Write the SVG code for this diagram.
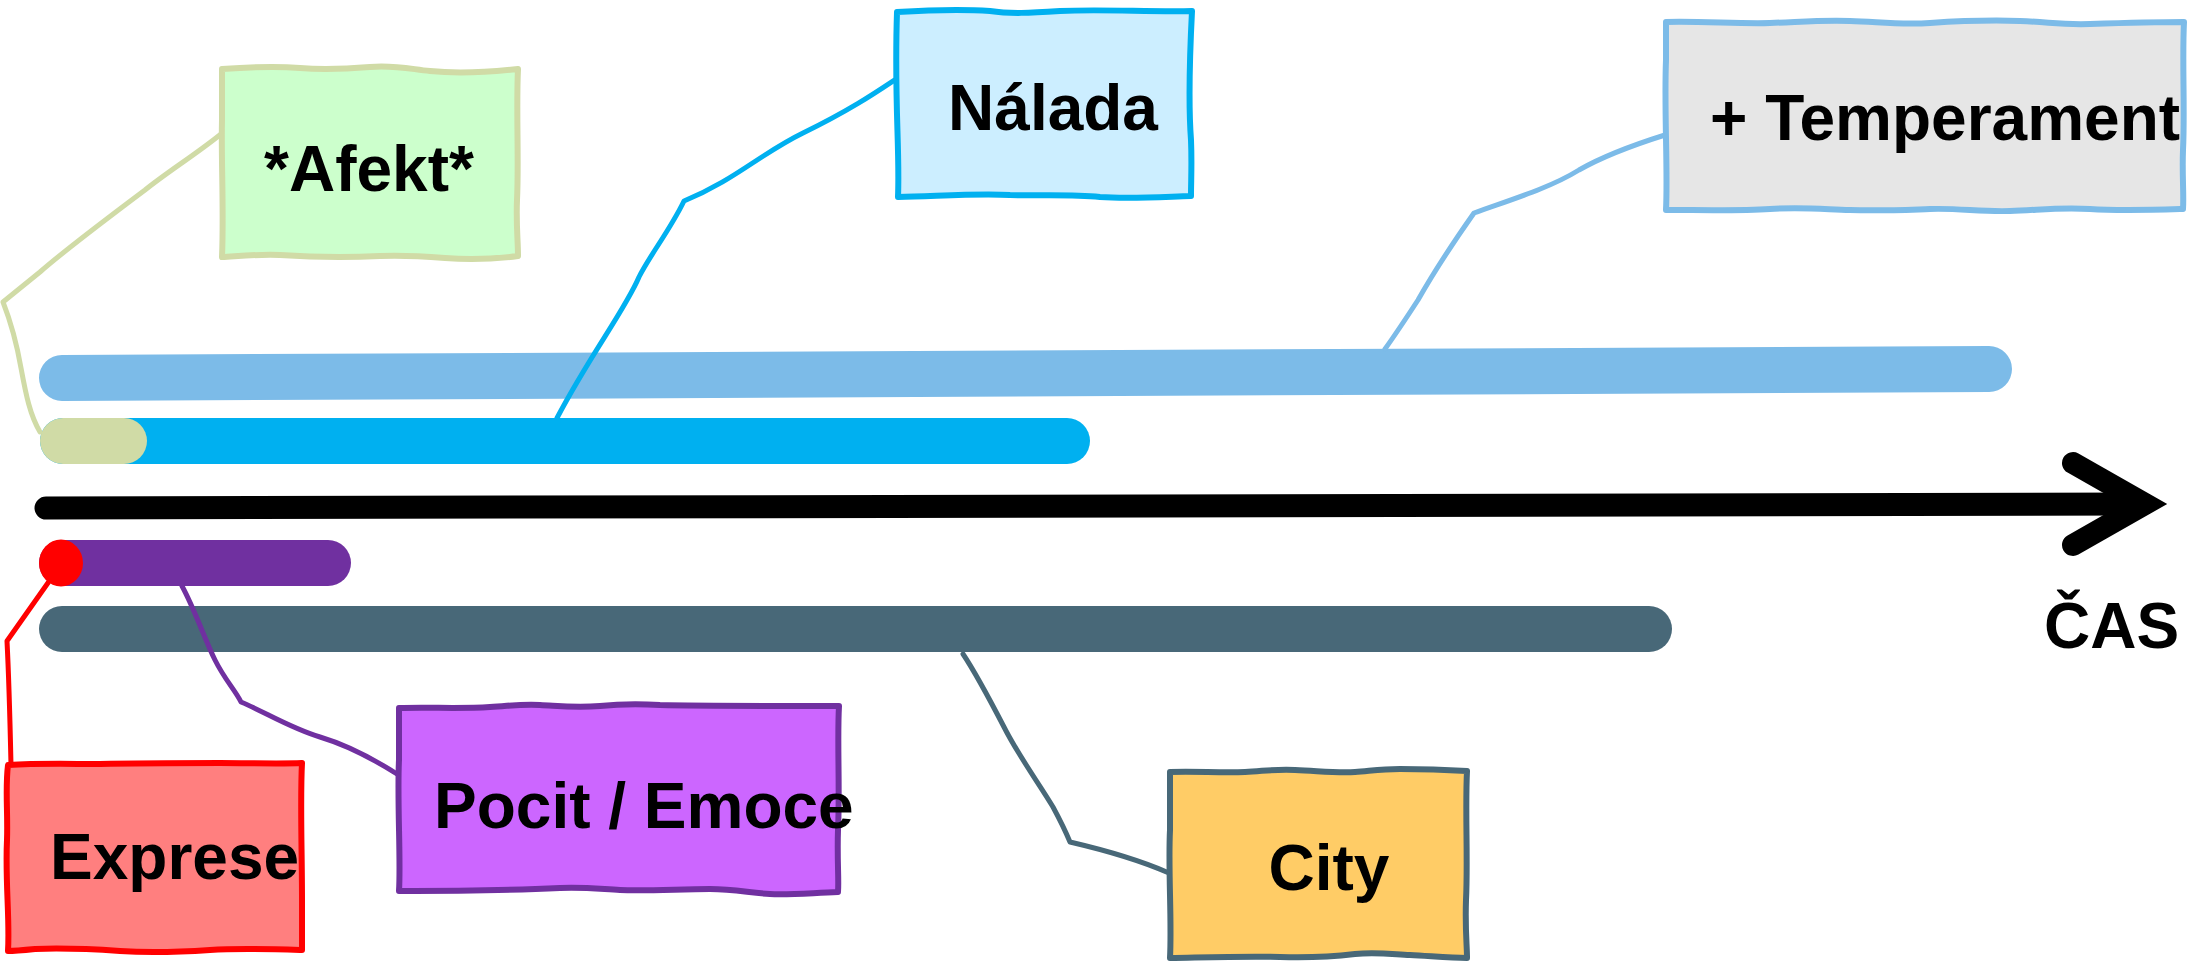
<svg xmlns="http://www.w3.org/2000/svg" width="2201" height="961" viewBox="0 0 2201 961">
  <style>
    .bar { fill: none; stroke-width: 46; stroke-linecap: round; }
    .conn { fill: none; stroke-width: 5; stroke-linejoin: round; stroke-linecap: round; }
    .box { stroke-width: 6; stroke-linejoin: round; }
    .lbl { font-family: "Liberation Sans", Arial, sans-serif; font-weight: bold; font-size: 64px; fill: #000000; }
  </style>
  <rect x="0" y="0" width="2201" height="961" fill="#FFFFFF"/>

  <g id="bars">
    <line id="bar-temperament" class="bar" x1="62" y1="378" x2="1989" y2="369" stroke="#7CBBE8"/>
    <line id="bar-nalada" class="bar" x1="63" y1="441" x2="1067" y2="441" stroke="#00B0F0"/>
    <line id="bar-afekt" class="bar" x1="63" y1="441" x2="124" y2="441" stroke="#D0DBA6"/>
    <line id="bar-pocit" class="bar" x1="62" y1="563" x2="328" y2="563" stroke="#7030A0"/>
    <ellipse id="bar-exprese" cx="61" cy="563" rx="22" ry="23.5" fill="#FF0000"/>
    <line id="bar-city" class="bar" x1="62" y1="629" x2="1649" y2="629" stroke="#486878"/>
  </g>

  <g id="time-axis">
    <line x1="46" y1="508" x2="2140" y2="504" stroke="#000000" stroke-width="23" stroke-linecap="round"/>
    <polyline points="2073,463 2145,504 2073,545" fill="none" stroke="#000000" stroke-width="22" stroke-linecap="round" stroke-linejoin="miter" stroke-miterlimit="10"/>
    <text class="lbl" x="2044" y="648">ČAS</text>
  </g>

  <g id="connectors">
    <path class="conn" stroke="#D0DBA6" d="M221,134 C195,155 170,170 145,190 C105,220 65,250 40,272 L3,302 C12,325 17,345 21,368 C26,395 30,415 40,432"/>
    <path class="conn" stroke="#00B0F0" d="M896,79 C875,93 850,110 803,133 C760,154 735,180 684,201 C670,230 650,255 639,277 C625,310 590,355 557,418"/>
    <path class="conn" stroke="#7CBBE8" d="M1665,135 C1630,146 1600,158 1579,170 C1550,188 1510,200 1474,213 C1455,240 1435,270 1418,300 C1405,320 1395,335 1385,349"/>
    <path class="conn" stroke="#FF0000" d="M50,580 L7,641 C9,680 10,720 11,765"/>
    <path class="conn" stroke="#7030A0" d="M182,586 C195,610 205,640 215,660 C225,680 235,690 241,702 C265,712 290,728 320,737 C350,746 375,760 397,774"/>
    <path class="conn" stroke="#486878" d="M963,654 C975,672 990,700 1004,727 C1018,755 1040,785 1053,807 C1060,820 1065,830 1070,842 C1100,849 1135,858 1169,873"/>
  </g>

  <g id="node-afekt">
    <path class="box" fill="#CCFFCC" stroke="#D0DBA6" d="M222,69 C250,67 275,66 300,68 C325,70 345,69 370,67 C395,65 410,69 430,71 C460,74 490,72 518,69 C516,110 519,160 517,200 C516,225 518,240 518,256 C495,259 470,260 445,258 C420,256 400,255 380,256 C340,258 310,257 280,255 C260,254 240,256 222,257 C224,210 221,160 222,120 C222,95 222,80 222,69 Z"/>
    <text class="lbl" x="369" y="191" text-anchor="middle">*Afekt*</text>
  </g>

  <g id="node-nalada">
    <path class="box" fill="#CCEEFF" stroke="#00B0F0" d="M897,12 C930,10 960,9 990,11 C1010,14 1030,13 1060,11 C1100,9 1150,12 1192,11 C1190,50 1188,100 1191,140 C1192,165 1191,180 1191,196 C1160,197 1130,199 1100,197 C1070,194 1040,196 1010,195 C980,193 940,196 898,197 C900,150 894,100 897,12 Z"/>
    <text class="lbl" x="1053" y="130" text-anchor="middle">Nálada</text>
  </g>

  <g id="node-temperament">
    <path class="box" fill="#E6E6E6" stroke="#7CBBE8" d="M1666,22 C1700,21 1740,24 1770,23 C1800,22 1820,20 1850,21 C1880,22 1900,25 1930,23 C1960,21 1990,20 2020,21 C2050,22 2060,25 2090,24 C2120,23 2150,22 2184,22 C2182,60 2185,110 2183,150 C2182,175 2184,195 2183,209 C2150,210 2120,211 2090,209 C2060,207 2040,210 2010,211 C1980,212 1960,208 1930,209 C1900,210 1880,211 1850,210 C1820,209 1800,207 1770,209 C1740,211 1700,210 1666,210 C1668,170 1664,110 1666,60 Z"/>
    <text class="lbl" x="1710" y="140">+ Temperament</text>
  </g>

  <g id="node-exprese">
    <path class="box" fill="#FF7F7F" stroke="#FF0000" d="M8,765 C40,763 70,764 100,764 C140,763 180,763 220,763 C250,763 280,764 302,763 C300,800 302,850 302,900 C302,925 302,940 302,950 C270,949 240,948 210,950 C180,952 150,953 120,951 C90,949 60,948 35,949 C25,950 15,951 8,951 C10,920 5,880 7,840 C8,810 5,790 8,765 Z"/>
    <text class="lbl" x="50" y="879">Exprese</text>
  </g>

  <g id="node-pocit">
    <path class="box" fill="#CC66FF" stroke="#7030A0" d="M399,708 C430,707 460,709 490,707 C510,706 520,704 540,705 C560,706 575,708 600,706 C620,704 640,704 660,705 C700,706 760,706 839,706 C837,740 840,790 838,830 C837,860 839,880 838,892 C810,893 790,895 770,894 C750,893 735,889 710,889 C680,889 650,891 620,890 C600,889 585,887 560,888 C520,890 460,891 399,891 C401,860 397,800 399,760 Z"/>
    <text class="lbl" x="434" y="828">Pocit / Emoce</text>
  </g>

  <g id="node-city">
    <path class="box" fill="#FFCC66" stroke="#486878" d="M1170,772 C1195,771 1220,773 1245,772 C1265,771 1275,769 1295,770 C1320,771 1335,773 1355,772 C1370,771 1380,769 1400,769 C1430,769 1450,770 1467,771 C1465,810 1468,860 1466,900 C1465,930 1467,945 1467,958 C1450,958 1430,956 1410,955 C1390,954 1375,952 1355,954 C1330,957 1310,958 1280,957 C1250,956 1220,957 1170,958 C1172,920 1168,870 1170,830 Z"/>
    <text class="lbl" x="1329" y="890" text-anchor="middle">City</text>
  </g>
</svg>
